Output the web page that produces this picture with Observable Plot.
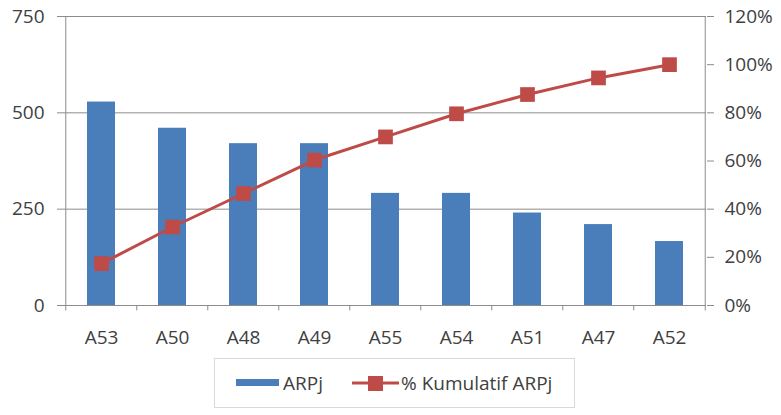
<!DOCTYPE html>
<html>
<head>
<meta charset="utf-8">
<script src="https://cdn.jsdelivr.net/npm/d3@7"></script>
<script src="https://cdn.jsdelivr.net/npm/@observablehq/plot@0.6"></script>
<style>
  html, body { margin: 0; padding: 0; background: #fff; }
  #wrap { position: relative; width: 781px; height: 415px; font-family: "Open Sans", sans-serif; color: #404040; }
  #legend { position: absolute; left: 214px; top: 358px; width: 359px; height: 48px; border: 1px solid #d9d9d9; box-sizing: content-box; }
  #legend .item { position: absolute; top: 0; height: 48px; display: flex; align-items: center; font-size: 19px; }
</style>
</head>
<body>
<div id="wrap">
  <div id="chart"></div>
  <div id="legend">
    <div class="item" style="left:21px"><svg width="44" height="10"><rect x="0" y="1" width="43" height="7" fill="#4a7ebb"></rect></svg><span style="margin-left:3px">ARPj</span></div>
    <div class="item" style="left:137px"><svg width="48" height="18"><line x1="0" x2="47" y1="9" y2="9" stroke="#be4b48" stroke-width="3"></line><rect x="16" y="2" width="15" height="15" fill="#be4b48"></rect></svg><span style="margin-left:1px">% Kumulatif ARPj</span></div>
  </div>
</div>
<script>
const categories = ["A53","A50","A48","A49","A55","A54","A51","A47","A52"];
const arpj = [528,460,420,420,291,291,240,210,166];
const kumulatif = [17.4,32.6,46.5,60.4,70.0,79.6,87.6,94.5,100];
const leftTicks = [0,250,500,750];
const rightTicks = [0,20,40,60,80,100,120];
const leftMax = 750, rightMax = 120;

const data = categories.map((c, i) => ({cat: c, arpj: arpj[i], pct: kumulatif[i]}));
const toLeft = v => v * leftMax / rightMax;

const W = 781, H = 354, ML = 63, MR = 75, MT = 16, MB = 49;
const step = (W - ML - MR) / categories.length;
const axisGray = "#8c8c8c";

const chart = Plot.plot({
  width: W, height: H,
  marginLeft: ML, marginRight: MR, marginTop: MT, marginBottom: MB,
  style: {fontSize: "19px", fontFamily: "'Open Sans', sans-serif", color: "#404040", background: "#fff"},
  x: {domain: categories, paddingInner: 0.61, paddingOuter: 0.305, label: null},
  y: {domain: [0, leftMax], label: null},
  marks: [
    Plot.gridY(leftTicks.slice(1), {stroke: axisGray, strokeOpacity: 1}),
    Plot.barY(data, {x: "cat", y: "arpj", fill: "#4a7ebb"}),
    Plot.ruleY([0], {stroke: axisGray}),
    Plot.ruleX([categories[0]], {dx: -step / 2, y1: -14, y2: leftMax, stroke: axisGray}),
    Plot.ruleX([categories[categories.length - 1]], {dx: step / 2, y1: -14, y2: leftMax, stroke: axisGray}),
    Plot.ruleX(categories.slice(1), {dx: -step / 2, y1: 0, y2: -14, stroke: axisGray}),
    Plot.axisY(leftTicks, {anchor: "left", tickSize: 6, tickPadding: 13, stroke: axisGray, fill: "#404040", label: null}),
    Plot.axisY(rightTicks.map(toLeft), {anchor: "right", tickSize: 7, tickPadding: 11, stroke: axisGray, fill: "#404040", label: null,
      tickFormat: v => Math.round(v * rightMax / leftMax) + "%"}),
    Plot.axisX({tickSize: 0, tickPadding: 25, fill: "#404040", label: null}),
    Plot.line(data, {x: "cat", y: d => toLeft(d.pct), stroke: "#be4b48", strokeWidth: 3}),
    Plot.dot(data, {x: "cat", y: d => toLeft(d.pct), symbol: "square", r: 8.3, fill: "#be4b48", stroke: "none"})
  ]
});
chart.style.position = "absolute";
chart.style.left = "0";
chart.style.top = "0";
document.getElementById("chart").appendChild(chart);
</script>
</body>
</html>
